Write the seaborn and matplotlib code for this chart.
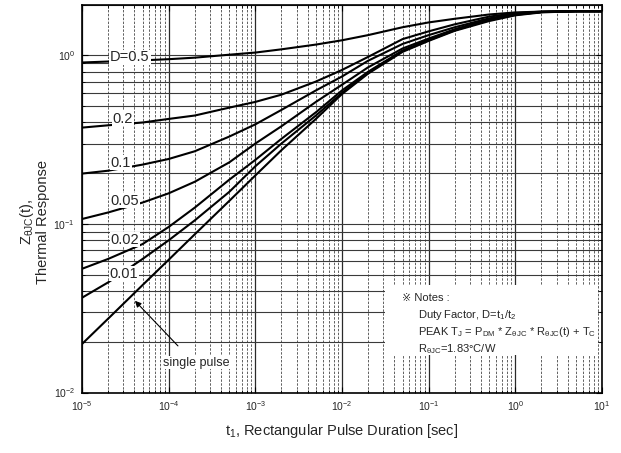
import numpy as np
import pandas as pd
import matplotlib
matplotlib.use("Agg")
import matplotlib.pyplot as plt
import seaborn as sns
from matplotlib.patches import Rectangle

# ---- data ----
t_sec = [1e-5, 2e-5, 5e-5, 1e-4, 2e-4, 5e-4, 1e-3, 2e-3, 5e-3, 1e-2,
         2e-2, 5e-2, 1e-1, 2e-1, 5e-1, 1.0, 2.0, 5.0, 10.0]

z_d050 = [0.908, 0.920, 0.935, 0.950, 0.970, 1.01, 1.04, 1.087, 1.16, 1.23,
          1.32, 1.47, 1.57, 1.65, 1.75, 1.80, 1.82, 1.83, 1.83]
z_d020 = [0.373, 0.385, 0.400, 0.420, 0.440, 0.490, 0.530, 0.585, 0.70, 0.82,
          0.98, 1.25, 1.39, 1.53, 1.70, 1.78, 1.82, 1.83, 1.83]
z_d010 = [0.199, 0.207, 0.225, 0.243, 0.270, 0.330, 0.390, 0.475, 0.62, 0.75,
          0.93, 1.17, 1.32, 1.47, 1.66, 1.76, 1.81, 1.83, 1.83]
z_d005 = [0.107, 0.117, 0.134, 0.152, 0.178, 0.232, 0.300, 0.380, 0.53, 0.67,
          0.85, 1.10, 1.26, 1.43, 1.64, 1.76, 1.81, 1.83, 1.83]
z_d002 = [0.0542, 0.062, 0.076, 0.096, 0.125, 0.183, 0.240, 0.320, 0.46, 0.62,
          0.80, 1.07, 1.24, 1.42, 1.63, 1.75, 1.81, 1.83, 1.83]
z_d001 = [0.0365, 0.045, 0.062, 0.080, 0.105, 0.155, 0.220, 0.300, 0.44, 0.60,
          0.79, 1.06, 1.23, 1.41, 1.62, 1.74, 1.81, 1.83, 1.83]
z_single = [0.0194, 0.0274, 0.0434, 0.0613, 0.0868, 0.137, 0.194, 0.274, 0.42, 0.59,
            0.78, 1.05, 1.22, 1.40, 1.60, 1.73, 1.80, 1.83, 1.83]

series_names = ["D=0.5", "0.2", "0.1", "0.05", "0.02", "0.01", "single pulse"]
series_values = [z_d050, z_d020, z_d010, z_d005, z_d002, z_d001, z_single]

# curve labels (text, x, y) in data coords
curve_labels = [("D=0.5", 3.58e-5, 0.973), ("0.2", 2.97e-5, 0.422),
                ("0.1", 2.82e-5, 0.231), ("0.05", 3.13e-5, 0.1375),
                ("0.02", 3.13e-5, 0.0807), ("0.01", 3.05e-5, 0.0507)]

x_ticks = [1e-5, 1e-4, 1e-3, 1e-2, 1e-1, 1e0, 1e1]
x_ticklabels = ["$10^{-5}$", "$10^{-4}$", "$10^{-3}$", "$10^{-2}$",
                "$10^{-1}$", "$10^{0}$", "$10^{1}$"]
y_ticks = [1e-2, 1e-1, 1e0]
y_ticklabels = ["$10^{-2}$", "$10^{-1}$", "$10^{0}$"]

rows = []
for name, vals in zip(series_names, series_values):
    for t, z in zip(t_sec, vals):
        rows.append({"t": t, "z": z, "curve": name})
df = pd.DataFrame(rows)

# ---- style ----
sns.set_theme(style="white")
plt.rcParams["font.family"] = ["Liberation Sans", "DejaVu Sans"]
plt.rcParams["mathtext.fontset"] = "custom"
plt.rcParams["mathtext.rm"] = "Liberation Sans"
plt.rcParams["mathtext.it"] = "Liberation Sans"
plt.rcParams["mathtext.default"] = "regular"

fig = plt.figure(figsize=(6.21, 4.53), dpi=100)
ax = fig.add_axes([82 / 621, 1 - 392.5 / 453, 520 / 621, 387.8 / 453])

sns.lineplot(data=df, x="t", y="z", hue="curve", hue_order=series_names,
             palette=["black"] * len(series_names), estimator=None, sort=True,
             linewidth=1.5, legend=False, ax=ax, zorder=3)

ax.set_xscale("log")
ax.set_yscale("log")
ax.set_xlim(1e-5, 10)
ax.set_ylim(0.01, 2.0)

ax.set_xticks(x_ticks)
ax.set_xticklabels(x_ticklabels, fontsize=7.5)
ax.set_yticks(y_ticks)
ax.set_yticklabels(y_ticklabels, fontsize=7.5)
ax.xaxis.set_minor_locator(matplotlib.ticker.LogLocator(base=10, subs=np.arange(2, 10)))
ax.yaxis.set_minor_locator(matplotlib.ticker.LogLocator(base=10, subs=np.arange(2, 10)))
ax.xaxis.set_minor_formatter(matplotlib.ticker.NullFormatter())
ax.yaxis.set_minor_formatter(matplotlib.ticker.NullFormatter())
ax.tick_params(which="both", direction="in", top=True, right=True, bottom=True, left=True,
               color="black")
ax.tick_params(which="major", length=4, width=0.8, pad=5)
ax.tick_params(which="minor", length=2.5, width=0.6)

ax.set_axisbelow(True)
ax.grid(which="major", axis="x", color="#2a2a2a", lw=0.9, ls="-")
ax.grid(which="minor", axis="x", color="#606060", lw=0.7, ls=(0, (2.5, 1.5)))
ax.grid(which="both", axis="y", color="#3a3a3a", lw=0.8, ls="-")

for sp in ax.spines.values():
    sp.set_color("black")
    sp.set_linewidth(1.2)

ax.set_xlabel("")
ax.set_ylabel("")
fig.text(342 / 621, 1 - 431 / 453, "t$_1$, Rectangular Pulse Duration [sec]",
         ha="center", va="center", fontsize=10.5)
fig.text(34 / 621, 1 - 222 / 453, "Z$_{\u03b8 JC}$(t),\nThermal Response",
         ha="center", va="center", rotation=90, fontsize=10.5,
         multialignment="center", linespacing=1.0)

# curve labels with white background
for txt, xx, yy in curve_labels:
    ax.text(xx, yy, txt, ha="center", va="center", fontsize=10.5, zorder=5,
            bbox=dict(boxstyle="square,pad=0.05", fc="white", ec="none"))

ax.text(2.07e-4, 0.0150, "single pulse", ha="center", va="center", fontsize=9,
        zorder=5, bbox=dict(boxstyle="square,pad=0.05", fc="white", ec="none"))
ax.annotate("", xy=(4.08e-5, 0.035), xytext=(1.28e-4, 0.0189),
            arrowprops=dict(arrowstyle="-|>", color="black", lw=0.8,
                            mutation_scale=9, shrinkA=0, shrinkB=0), zorder=6)

# notes box
ax.add_patch(Rectangle((0.583, 0.097), 0.409, 0.180, transform=ax.transAxes,
                       fc="white", ec="none", zorder=4))
ax.text(0.615, 0.244, "\u203b Notes :", transform=ax.transAxes, fontsize=8,
        ha="left", va="center", zorder=5)
notes = ["Duty Factor, D=t$_1$/t$_2$",
         "PEAK T$_J$ = P$_{DM}$ * Z$_{\u03b8 JC}$ * R$_{\u03b8 JC}$(t) + T$_C$",
         "R$_{\u03b8 JC}$=1.83\u00b0C/W"]
for i, line in enumerate(notes):
    ax.text(0.646, 0.200 - i * 0.044, line, transform=ax.transAxes, fontsize=8,
            ha="left", va="center", zorder=5)

fig.savefig("out.png", dpi=100)
